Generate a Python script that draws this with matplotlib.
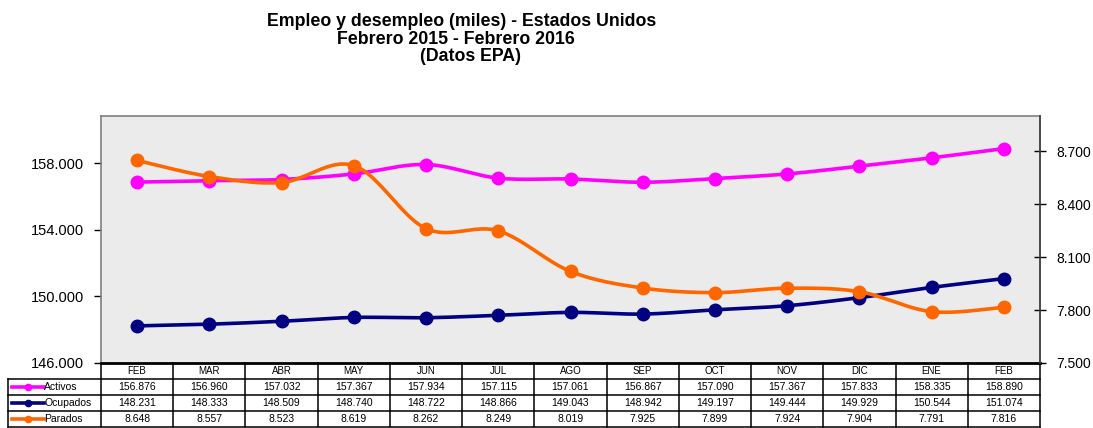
# EMPLEO Y DESEMPLEO - ESTADOS UNIDOS (DATOS EPA)

import numpy as np
import matplotlib.pyplot as plt
from matplotlib.ticker import FuncFormatter, FixedLocator
from matplotlib.transforms import blended_transform_factory

# --------------------------
# Datos (miles de personas)
# --------------------------
meses = ['FEB', 'MAR', 'ABR', 'MAY', 'JUN', 'JUL', 'AGO', 'SEP', 'OCT', 'NOV', 'DIC', 'ENE', 'FEB']
activos = [156876, 156960, 157032, 157367, 157934, 157115, 157061, 156867, 157090, 157367, 157833, 158335, 158890]
ocupados = [148231, 148333, 148509, 148740, 148722, 148866, 149043, 148942, 149197, 149444, 149929, 150544, 151074]
parados = [8648, 8557, 8523, 8619, 8262, 8249, 8019, 7925, 7899, 7924, 7904, 7791, 7816]

ticks_izq = [146000, 150000, 154000, 158000]
ticks_der = [7500, 7800, 8100, 8400, 8700]

COLOR_ACTIVOS = '#ff00ff'
COLOR_OCUPADOS = '#000080'
COLOR_PARADOS = '#ff6600'

plt.rcParams['font.family'] = ['Liberation Sans', 'DejaVu Sans']


# --------------------------
# Funciones auxiliares
# --------------------------

# Formato con punto como separador de miles
def formato_miles(valor, pos=None):
    return f"{valor:,.0f}".replace(",", ".")


# Curva suavizada tipo Excel (Catmull-Rom)
def suavizar(x, y, n=24):
    pts = np.column_stack([x, y]).astype(float)
    p = np.vstack([pts[0], pts, pts[-1]])
    t = np.linspace(0, 1, n, endpoint=False)[:, None]
    tramos = []
    for i in range(1, len(p) - 2):
        p0, p1, p2, p3 = p[i - 1], p[i], p[i + 1], p[i + 2]
        seg = 0.5 * (2 * p1 + (-p0 + p2) * t + (2 * p0 - 5 * p1 + 4 * p2 - p3) * t ** 2
                     + (-p0 + 3 * p1 - 3 * p2 + p3) * t ** 3)
        tramos.append(seg)
    tramos.append(p[-2][None])
    curva = np.vstack(tramos)
    return curva[:, 0], curva[:, 1]


# --------------------------
# Gráfico
# --------------------------
fig = plt.figure(figsize=(10.93, 4.28), dpi=100)
ax = fig.add_axes([101 / 1093, 1 - 363 / 428, 939 / 1093, 247 / 428])
ax2 = ax.twinx()

x = np.arange(len(meses))
ax.set_facecolor('#ebebeb')

series = [(ax, activos, COLOR_ACTIVOS), (ax, ocupados, COLOR_OCUPADOS), (ax2, parados, COLOR_PARADOS)]
for eje, valores, color in series:
    xs, ys = suavizar(x, valores)
    eje.plot(xs, ys, color=color, linewidth=2.6, solid_capstyle='round', zorder=3)
    eje.plot(x, valores, linestyle='none', marker='o', markersize=9, color=color, zorder=4)

ax.set_xlim(-0.5, len(meses) - 0.5)
ax.set_ylim(146000, 160850)
ax2.set_ylim(7500, 8900)
ax.yaxis.set_major_locator(FixedLocator(ticks_izq))
ax2.yaxis.set_major_locator(FixedLocator(ticks_der))
ax.yaxis.set_major_formatter(FuncFormatter(formato_miles))
ax2.yaxis.set_major_formatter(FuncFormatter(formato_miles))
ax.set_xticks([])

ax.tick_params(axis='y', direction='out', length=5, width=1, labelsize=10.5, pad=7)
ax2.tick_params(axis='y', direction='inout', length=8, width=1, labelsize=10, pad=8)

for nombre, spine in ax.spines.items():
    spine.set_color('#7f7f7f')
    spine.set_linewidth(1.2)
ax.spines['bottom'].set_color('black')
ax.spines['bottom'].set_linewidth(2)
for nombre, spine in ax2.spines.items():
    spine.set_visible(False)
ax2.spines['right'].set_visible(True)
ax2.spines['right'].set_color('#404040')
ax2.spines['right'].set_linewidth(1.2)

# Título
fig.text(462 / 1093, 1 - 21 / 428, 'Empleo y desempleo (miles) - Estados Unidos',
         ha='center', va='center', fontsize=12.8, fontweight='bold')
fig.text(456 / 1093, 1 - 40 / 428, 'Febrero 2015 - Febrero 2016',
         ha='center', va='center', fontsize=12.8, fontweight='bold')
fig.text(471 / 1093, 1 - 57 / 428, '(Datos EPA)',
         ha='center', va='center', fontsize=12.8, fontweight='bold')

# --------------------------
# Tabla de datos bajo el eje
# --------------------------
trans = blended_transform_factory(ax.transData, ax.transAxes)
alto_fila = 16 / 247
x_izq = -0.5 - 93 / (939 / 13)
x_der = len(meses) - 0.5
kw_linea = dict(transform=trans, color='black', linewidth=1.1, clip_on=False)

# Fila de meses
for i, mes in enumerate(meses):
    ax.text(i, -0.5 * alto_fila, mes, transform=trans, ha='center', va='center',
            fontsize=7, clip_on=False)

filas = [('Activos', activos, COLOR_ACTIVOS),
         ('Ocupados', ocupados, COLOR_OCUPADOS),
         ('Parados', parados, COLOR_PARADOS)]
for f, (nombre, valores, color) in enumerate(filas):
    yc = -(f + 1.5) * alto_fila
    ax.plot([x_izq + 0.05, x_izq + 0.5], [yc, yc], color=color, linewidth=2.6,
            transform=trans, clip_on=False)
    ax.plot([x_izq + 0.27], [yc], marker='o', markersize=4.5, color=color,
            transform=trans, clip_on=False)
    ax.text(x_izq + 0.5, yc, nombre, transform=trans, ha='left', va='center',
            fontsize=7.5, clip_on=False)
    for i, v in enumerate(valores):
        ax.text(i, yc, formato_miles(v), transform=trans, ha='center', va='center',
                fontsize=7.5, clip_on=False)

# Líneas de la tabla
for f in range(1, 5):
    ax.plot([x_izq, x_der], [-f * alto_fila, -f * alto_fila], **kw_linea)
ax.plot([x_izq, x_izq], [-alto_fila, -4 * alto_fila], **kw_linea)
for i in range(len(meses) + 1):
    ax.plot([i - 0.5, i - 0.5], [0, -4 * alto_fila], **kw_linea)

fig.savefig('out.png', dpi=100)
